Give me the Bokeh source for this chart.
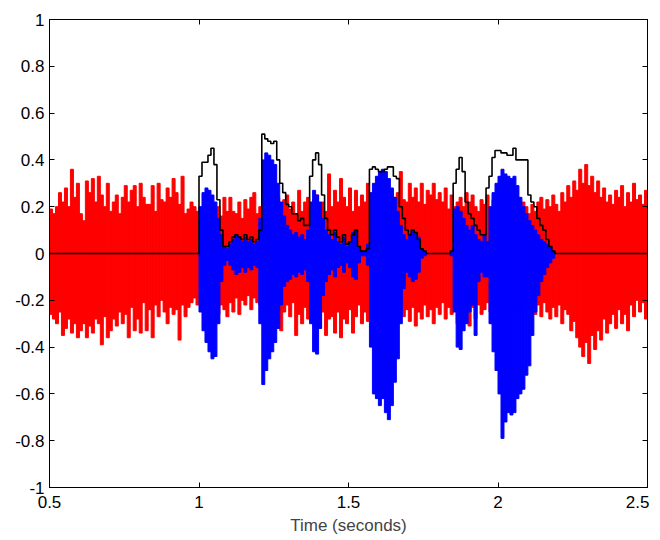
import numpy as np
from bokeh.plotting import figure
from bokeh.models import LinearAxis, FixedTicker, Range1d
from bokeh.embed import file_html
from bokeh.resources import INLINE

# time bins (seconds), 10 ms each
bin_start = 0.5
bin_width = 0.01
n_bins = 200

# noise (red) : per-bin max / min
red_hi = [
    0.19, 0.17, 0.20, 0.26, 0.22, 0.28, 0.20, 0.36, 0.24, 0.30,
    0.17, 0.14, 0.31, 0.26, 0.32, 0.22, 0.33, 0.25, 0.20, 0.30,
    0.18, 0.22, 0.25, 0.17, 0.24, 0.29, 0.22, 0.27, 0.29, 0.20,
    0.30, 0.24, 0.21, 0.21, 0.29, 0.18, 0.30, 0.23, 0.22, 0.28,
    0.24, 0.32, 0.26, 0.21, 0.33, 0.17, 0.19, 0.22, 0.20, 0.18,
    0.15, 0.17, 0.15, 0.20, 0.18, 0.19, 0.20, 0.16, 0.24, 0.18,
    0.24, 0.18, 0.17, 0.22, 0.15, 0.23, 0.19, 0.24, 0.26, 0.17,
    0.20, 0.18, 0.21, 0.22, 0.20, 0.19, 0.24, 0.20, 0.23, 0.25,
    0.19, 0.22, 0.17, 0.27, 0.18, 0.22, 0.24, 0.19, 0.23, 0.25,
    0.20, 0.22, 0.18, 0.34, 0.20, 0.27, 0.22, 0.32, 0.24, 0.20,
    0.28, 0.18, 0.27, 0.20, 0.25, 0.22, 0.30, 0.19, 0.23, 0.21,
    0.29, 0.22, 0.25, 0.20, 0.27, 0.24, 0.26, 0.35, 0.23, 0.22,
    0.30, 0.24, 0.28, 0.22, 0.30, 0.21, 0.27, 0.25, 0.30, 0.23,
    0.26, 0.22, 0.28, 0.19, 0.25, 0.20, 0.22, 0.24, 0.20, 0.26,
    0.22, 0.25, 0.20, 0.18, 0.23, 0.21, 0.25, 0.17, 0.23, 0.20,
    0.22, 0.24, 0.19, 0.21, 0.25, 0.20, 0.23, 0.18, 0.22, 0.20,
    0.17, 0.21, 0.18, 0.22, 0.24, 0.19, 0.23, 0.20, 0.25, 0.21,
    0.18, 0.26, 0.22, 0.29, 0.24, 0.31, 0.27, 0.36, 0.30, 0.38,
    0.29, 0.33, 0.26, 0.31, 0.24, 0.28, 0.22, 0.25, 0.21, 0.27,
    0.24, 0.29, 0.20, 0.26, 0.22, 0.30, 0.23, 0.25, 0.21, 0.27,
]
red_lo = [
    -0.26, -0.28, -0.30, -0.25, -0.35, -0.32, -0.28, -0.34, -0.30, -0.36,
    -0.33, -0.30, -0.36, -0.31, -0.34, -0.28, -0.30, -0.39, -0.27, -0.36,
    -0.33, -0.28, -0.31, -0.25, -0.30, -0.26, -0.36, -0.23, -0.33, -0.28,
    -0.34, -0.21, -0.33, -0.24, -0.36, -0.22, -0.27, -0.20, -0.25, -0.30,
    -0.23, -0.26, -0.24, -0.37, -0.22, -0.27, -0.23, -0.21, -0.19, -0.22,
    -0.20, -0.22, -0.25, -0.21, -0.23, -0.20, -0.26, -0.22, -0.24, -0.27,
    -0.21, -0.25, -0.19, -0.26, -0.20, -0.22, -0.18, -0.24, -0.19, -0.21,
    -0.22, -0.20, -0.24, -0.21, -0.25, -0.30, -0.27, -0.33, -0.25, -0.22,
    -0.27, -0.21, -0.35, -0.26, -0.30, -0.23, -0.28, -0.25, -0.22, -0.26,
    -0.32, -0.25, -0.35, -0.28, -0.27, -0.34, -0.25, -0.36, -0.28, -0.30,
    -0.24, -0.34, -0.27, -0.22, -0.30, -0.25, -0.29, -0.23, -0.26, -0.22,
    -0.24, -0.28, -0.22, -0.27, -0.25, -0.23, -0.29, -0.21, -0.27, -0.24,
    -0.29, -0.23, -0.31, -0.25, -0.28, -0.22, -0.27, -0.24, -0.30, -0.23,
    -0.26, -0.21, -0.28, -0.23, -0.26, -0.24, -0.30, -0.22, -0.27, -0.25,
    -0.31, -0.23, -0.28, -0.22, -0.26, -0.24, -0.21, -0.25, -0.22, -0.20,
    -0.22, -0.24, -0.20, -0.23, -0.21, -0.25, -0.22, -0.20, -0.24, -0.21,
    -0.23, -0.20, -0.26, -0.22, -0.27, -0.21, -0.25, -0.28, -0.23, -0.27,
    -0.22, -0.30, -0.24, -0.26, -0.33, -0.29, -0.36, -0.40, -0.44, -0.38,
    -0.47, -0.35, -0.41, -0.33, -0.37, -0.28, -0.34, -0.30, -0.26, -0.32,
    -0.24, -0.30, -0.26, -0.33, -0.22, -0.27, -0.20, -0.25, -0.21, -0.28,
]

# speech (blue) : per-bin max / min
blue_hi = [
    0, 0, 0, 0, 0, 0, 0, 0, 0, 0,
    0, 0, 0, 0, 0, 0, 0, 0, 0, 0,
    0, 0, 0, 0, 0, 0, 0, 0, 0, 0,
    0, 0, 0, 0, 0, 0, 0, 0, 0, 0,
    0, 0, 0, 0, 0, 0, 0, 0, 0, 0,
    0.20, 0.26, 0.28, 0.27, 0.25, 0.22, 0.15, 0.08, 0.03, 0.02,
    0.04, 0.06, 0.08, 0.07, 0.05, 0.07, 0.05, 0.06, 0.04, 0.05,
    0.15, 0.40, 0.43, 0.42, 0.40, 0.38, 0.30, 0.22, 0.16, 0.12,
    0.10, 0.08, 0.09, 0.07, 0.08, 0.06, 0.10, 0.22, 0.27, 0.25,
    0.22, 0.15, 0.10, 0.08, 0.06, 0.09, 0.05, 0.04, 0.07, 0.03,
    0.05, 0.09, 0.10, 0.03, 0.01, 0.01, 0.04, 0.26, 0.30, 0.33,
    0.35, 0.36, 0.35, 0.32, 0.28, 0.24, 0.18, 0.12, 0.08, 0.06,
    0.08, 0.10, 0.09, 0.07, 0.02, 0.01, 0, 0, 0, 0,
    0, 0, 0, 0, 0.01, 0.19, 0.20, 0.18, 0.15, 0.12,
    0.10, 0.12, 0.08, 0.06, 0.05, 0.08, 0.05, 0.20, 0.26, 0.30,
    0.33, 0.36, 0.34, 0.33, 0.32, 0.33, 0.29, 0.24, 0.20, 0.17,
    0.14, 0.12, 0.10, 0.08, 0.06, 0.05, 0.04, 0.03, 0.01, 0,
    0, 0, 0, 0, 0, 0, 0, 0, 0, 0,
    0, 0, 0, 0, 0, 0, 0, 0, 0, 0,
    0, 0, 0, 0, 0, 0, 0, 0, 0, 0,
]
blue_lo = [
    0, 0, 0, 0, 0, 0, 0, 0, 0, 0,
    0, 0, 0, 0, 0, 0, 0, 0, 0, 0,
    0, 0, 0, 0, 0, 0, 0, 0, 0, 0,
    0, 0, 0, 0, 0, 0, 0, 0, 0, 0,
    0, 0, 0, 0, 0, 0, 0, 0, 0, 0,
    -0.25, -0.33, -0.38, -0.42, -0.45, -0.44, -0.30, -0.12, -0.05, -0.03,
    -0.05, -0.07, -0.09, -0.08, -0.06, -0.08, -0.06, -0.07, -0.05, -0.06,
    -0.30, -0.56, -0.50, -0.45, -0.42, -0.38, -0.32, -0.22, -0.14, -0.12,
    -0.11, -0.09, -0.10, -0.08, -0.09, -0.07, -0.12, -0.30, -0.42, -0.43,
    -0.32, -0.18, -0.12, -0.09, -0.07, -0.10, -0.06, -0.05, -0.08, -0.04,
    -0.06, -0.10, -0.11, -0.04, -0.01, -0.01, -0.05, -0.40, -0.60, -0.62,
    -0.65, -0.62, -0.68, -0.71, -0.65, -0.55, -0.45, -0.30, -0.15, -0.08,
    -0.10, -0.12, -0.11, -0.08, -0.02, -0.01, 0, 0, 0, 0,
    0, 0, 0, 0, -0.01, -0.25, -0.40, -0.41, -0.33, -0.30,
    -0.25, -0.22, -0.35, -0.12, -0.08, -0.10, -0.10, -0.30, -0.42, -0.50,
    -0.60, -0.79, -0.72, -0.68, -0.69, -0.68, -0.62, -0.60, -0.58, -0.52,
    -0.48, -0.35, -0.25, -0.18, -0.12, -0.09, -0.06, -0.04, -0.02, 0,
    0, 0, 0, 0, 0, 0, 0, 0, 0, 0,
    0, 0, 0, 0, 0, 0, 0, 0, 0, 0,
    0, 0, 0, 0, 0, 0, 0, 0, 0, 0,
]

# envelope (black)
envelope = [
    0, 0, 0, 0, 0, 0, 0, 0, 0, 0,
    0, 0, 0, 0, 0, 0, 0, 0, 0, 0,
    0, 0, 0, 0, 0, 0, 0, 0, 0, 0,
    0, 0, 0, 0, 0, 0, 0, 0, 0, 0,
    0, 0, 0, 0, 0, 0, 0, 0, 0, 0,
    0.33, 0.39, 0.39, 0.42, 0.45, 0.38, 0.23, 0.10, 0.03, 0.03,
    0.05, 0.07, 0.08, 0.07, 0.06, 0.08, 0.06, 0.07, 0.05, 0.06,
    0.10, 0.51, 0.49, 0.48, 0.47, 0.48, 0.40, 0.30, 0.26, 0.21,
    0.20, 0.17, 0.17, 0.14, 0.15, 0.12, 0.12, 0.33, 0.40, 0.43,
    0.38, 0.25, 0.15, 0.10, 0.08, 0.10, 0.07, 0.05, 0.08, 0.04,
    0.05, 0.08, 0.10, 0.03, 0.01, 0.01, 0.02, 0.36, 0.37, 0.36,
    0.35, 0.35, 0.36, 0.37, 0.37, 0.33, 0.32, 0.20, 0.15, 0.10,
    0.08, 0.10, 0.09, 0.06, 0.02, 0.01, 0, 0, 0, 0,
    0, 0, 0, 0, 0.01, 0.30, 0.36, 0.41, 0.35, 0.22,
    0.17, 0.15, 0.12, 0.10, 0.08, 0.08, 0.28, 0.33, 0.41, 0.44,
    0.44, 0.43, 0.43, 0.42, 0.42, 0.45, 0.40, 0.40, 0.40, 0.40,
    0.25, 0.22, 0.20, 0.15, 0.12, 0.10, 0.06, 0.03, 0.01, 0,
    0, 0, 0, 0, 0, 0, 0, 0, 0, 0,
    0, 0, 0, 0, 0, 0, 0, 0, 0, 0,
    0, 0, 0, 0, 0, 0, 0, 0, 0, 0,
]

x_ticks = [0.5, 1, 1.5, 2, 2.5]
x_tick_labels = ["0.5", "1", "1.5", "2", "2.5"]
y_ticks = [-1, -0.8, -0.6, -0.4, -0.2, 0, 0.2, 0.4, 0.6, 0.8, 1]
y_tick_labels = ["-1", "-0.8", "-0.6", "-0.4", "-0.2", "0", "0.2", "0.4", "0.6", "0.8", "1"]
x_label = "Time (seconds)"

t0 = bin_start + bin_width * np.arange(n_bins)
t1 = t0 + bin_width

FONT = "Liberation Sans"
FSIZE = "17px"

p = figure(frame_width=598, frame_height=468,
           x_range=Range1d(0.5, 2.5), y_range=Range1d(-1, 1),
           output_backend="svg", toolbar_location=None,
           min_border_left=49, min_border_top=19,
           min_border_right=2, min_border_bottom=2)
p.grid.visible = False
p.outline_line_color = "black"
p.outline_line_width = 1
p.background_fill_color = "white"
p.border_fill_color = "white"

p.quad(left=t0, right=t1, top=red_hi, bottom=red_lo,
       fill_color="#ff0000", line_color="#ff0000", line_width=1.0)
p.quad(left=t0, right=t1, top=blue_hi, bottom=blue_lo,
       fill_color="#0000ff", line_color="#0000ff", line_width=1.0)
p.step(x=np.append(t0, 2.5), y=np.append(envelope, envelope[-1]), mode="after",
       line_color="black", line_width=1.6)

def style_axis(ax, ticks, labels=None, show=True):
    ax.ticker = FixedTicker(ticks=ticks)
    ax.major_tick_in = 5
    ax.major_tick_out = 0
    ax.minor_tick_in = 0
    ax.minor_tick_out = 0
    ax.axis_line_color = "black"
    ax.major_tick_line_color = "black"
    if show:
        ax.major_label_overrides = {v: s for v, s in zip(ticks, labels)}
        ax.major_label_text_font = FONT
        ax.major_label_text_font_size = FSIZE
        ax.major_label_text_color = "black"
    else:
        ax.major_label_overrides = {v: "" for v in ticks}
        ax.major_label_text_font_size = "1px"
        ax.major_label_standoff = 0

style_axis(p.xaxis[0], x_ticks, x_tick_labels)
p.xaxis[0].major_label_standoff = 8
p.xaxis[0].axis_label = x_label
p.xaxis[0].axis_label_text_font = FONT
p.xaxis[0].axis_label_text_font_size = FSIZE
p.xaxis[0].axis_label_text_font_style = "normal"
p.xaxis[0].axis_label_standoff = 5
style_axis(p.yaxis[0], y_ticks, y_tick_labels)
p.yaxis[0].major_label_standoff = 5

top_ax = LinearAxis()
style_axis(top_ax, x_ticks, show=False)
p.add_layout(top_ax, "above")
right_ax = LinearAxis()
style_axis(right_ax, y_ticks, show=False)
p.add_layout(right_ax, "right")

open("out.html", "w").write(file_html(p, INLINE))
